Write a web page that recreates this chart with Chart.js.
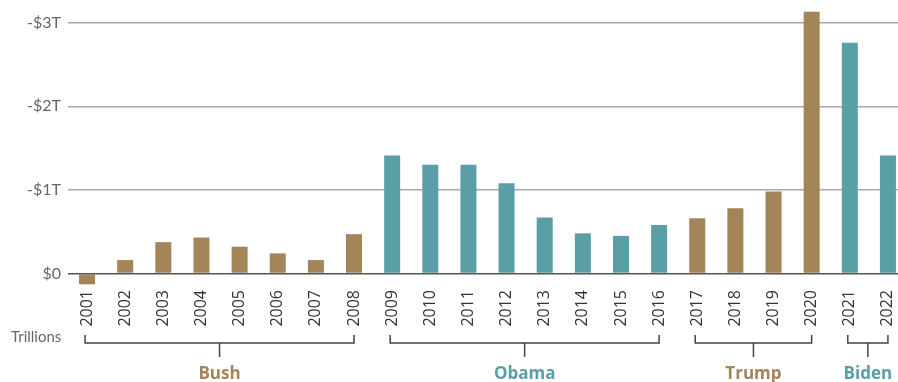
<!DOCTYPE html>
<html>
<head>
<meta charset="utf-8">
<script src="https://cdn.jsdelivr.net/npm/chart.js@4.4.1/dist/chart.umd.min.js"></script>
<style>
  html, body { margin: 0; padding: 0; background: #fff; overflow: hidden; }
</style>
</head>
<body>
<canvas id="deficitChart" width="908" height="382"></canvas>
<script>
// years along the x-axis
var years = ['2001', '2002', '2003', '2004', '2005', '2006', '2007', '2008',
             '2009', '2010', '2011', '2012', '2013', '2014', '2015', '2016',
             '2017', '2018', '2019', '2020', '2021', '2022'];
// deficit in trillions (positive = deficit, drawn upward)
var deficits = [-0.13, 0.16, 0.375, 0.43, 0.32, 0.24, 0.16, 0.47,
                1.41, 1.30, 1.30, 1.08, 0.67, 0.48, 0.45, 0.58,
                0.66, 0.78, 0.98, 3.13, 2.76, 1.41];
// y axis ticks
var yTicks = [0, 1, 2, 3];
var yLabels = ['$0', '-$1T', '-$2T', '-$3T'];
// presidencies
var groupNames = ['Bush', 'Obama', 'Trump', 'Biden'];
var groupFirst = ['2001', '2009', '2017', '2021'];
var groupLast = ['2008', '2016', '2020', '2022'];
var groupColors = ['#a48459', '#5b9fa6', '#a48459', '#5b9fa6'];

function colorForYear(y) {
    for (var i = 0; i < groupNames.length; i++) {
        if (+y >= +groupFirst[i] && +y <= +groupLast[i]) return groupColors[i];
    }
    return '#999';
}

var bracketPlugin = {
    id: 'brackets',
    afterDraw: function(chart) {
        var c = chart.ctx;
        var x = chart.scales.x;
        c.save();
        // units label
        c.fillStyle = '#666';
        c.font = '15px Lato';
        c.textAlign = 'left';
        c.textBaseline = 'middle';
        c.fillText('Trillions', 11, 337);

        for (var i = 0; i < groupNames.length; i++) {
            var x1 = x.getPixelForValue(years.indexOf(groupFirst[i])) - 2;
            var x2 = x.getPixelForValue(years.indexOf(groupLast[i]));
            var mid = (x1 + x2) / 2;
            c.strokeStyle = '#444';
            c.lineWidth = 1.5;
            c.beginPath();
            c.moveTo(x1, 335);
            c.lineTo(x1, 343);
            c.lineTo(x2, 343);
            c.lineTo(x2, 335);
            c.moveTo(mid, 343);
            c.lineTo(mid, 357);
            c.stroke();

            c.fillStyle = groupColors[i];
            c.font = 'bold 17px "Open Sans"';
            c.textAlign = 'center';
            c.fillText(groupNames[i], mid, 374);
        }
        c.restore();
    }
};

window.onload = function(){
    var ctx = document.getElementById('deficitChart');
    var deficitChart = new Chart(ctx, {
        type: 'bar',
        data: {
            labels: years,
            datasets: [{
                data: deficits,
                backgroundColor: years.map(colorForYear),
                barPercentage: 0.42,
                categoryPercentage: 1
            }]
        },
        options: {
            responsive: false,
            animation: false,
            layout: { padding: { top: 6, bottom: 56, left: 0, right: 1 } },
            plugins: { legend: { display: false }, tooltip: { enabled: false } },
            scales: {
                x: {
                    grid: { display: false, drawTicks: false },
                    border: { display: false },
                    ticks: {
                        autoSkip: false,
                        minRotation: 90,
                        maxRotation: 90,
                        padding: 4,
                        color: '#333',
                        font: { family: 'Open Sans', size: 16 }
                    },
                    afterFit: function(s) { s.height = 40; s.paddingLeft = 0; s.paddingRight = 0; }
                },
                y: {
                    min: -0.15,
                    max: 3.2,
                    afterBuildTicks: function(s) {
                        s.ticks = yTicks.map(function(v) { return { value: v }; });
                    },
                    afterFit: function(s) { s.width = 68; s.paddingTop = 0; s.paddingBottom = 0; },
                    grid: {
                        drawTicks: false,
                        color: function(c) { return c.tick && c.tick.value === 0 ? '#555' : '#a8a8a8'; },
                        lineWidth: 1.5
                    },
                    border: { display: false },
                    ticks: {
                        padding: 7,
                        color: '#666',
                        font: { family: 'Lato', size: 16 },
                        callback: function(v) { return yLabels[yTicks.indexOf(v)]; }
                    }
                }
            }
        },
        plugins: [bracketPlugin]
    });
};
</script>
</body>
</html>
